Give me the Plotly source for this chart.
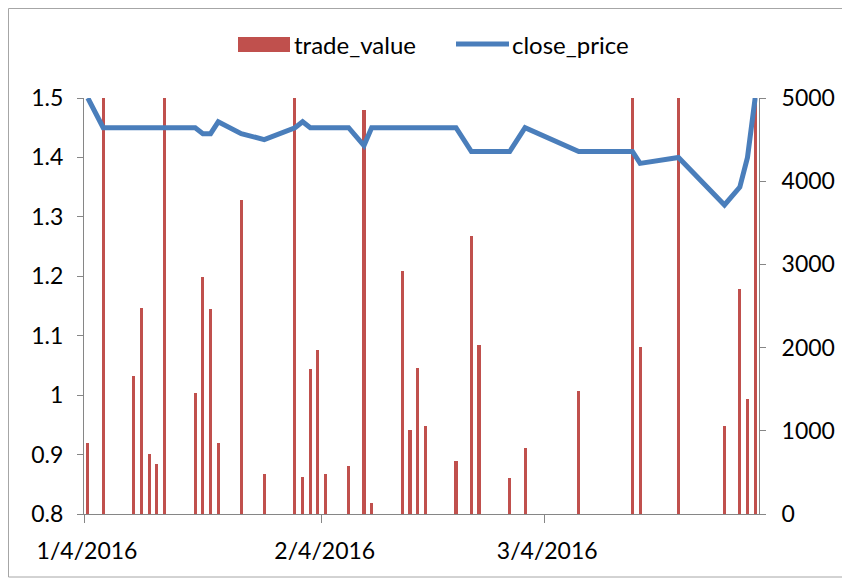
import plotly.graph_objects as go

# ---- data ----
dates = [
    "2016-01-04", "2016-01-06", "2016-01-10", "2016-01-11", "2016-01-12", "2016-01-13",
    "2016-01-14", "2016-01-18", "2016-01-19", "2016-01-20", "2016-01-21", "2016-01-24",
    "2016-01-27", "2016-01-31", "2016-02-01", "2016-02-02", "2016-02-03", "2016-02-04",
    "2016-02-07", "2016-02-09", "2016-02-10", "2016-02-14", "2016-02-15", "2016-02-16",
    "2016-02-17", "2016-02-21", "2016-02-23", "2016-02-24", "2016-02-28", "2016-03-01",
    "2016-03-08", "2016-03-15", "2016-03-16", "2016-03-21", "2016-03-27", "2016-03-29",
    "2016-03-30", "2016-03-31",
]
close_price = [
    1.50, 1.45, 1.45, 1.45, 1.45, 1.45,
    1.45, 1.45, 1.44, 1.44, 1.46, 1.44,
    1.43, 1.45, 1.46, 1.45, 1.45, 1.45,
    1.45, 1.42, 1.45, 1.45, 1.45, 1.45,
    1.45, 1.45, 1.41, 1.41, 1.41, 1.45,
    1.41, 1.41, 1.39, 1.40, 1.32, 1.35,
    1.40, 1.50,
]
trade_value = [
    857, 5400, 1659, 2480, 721, 597,
    5400, 1450, 2849, 2468, 849, 3772,
    477, 5400, 441, 1743, 1971, 485,
    581, 4860, 128, 2925, 1010, 1751,
    1062, 641, 3340, 2027, 429, 789,
    1475, 5400, 2011, 5400, 1054, 2700,
    1378, 5400,
]
x_tick_vals = ["2016-01-03 12:00", "2016-02-03 12:00", "2016-03-03 12:00"]
x_tick_text = ["1/4/2016", "2/4/2016", "3/4/2016"]
x_range = ["2016-01-03 12:00", "2016-03-31 12:00"]
left_range = [0.8, 1.5]
right_range = [0, 5000]

RED = "#C0504D"
BLUE = "#4A7EBB"
AXIS = "#868686"
FONT = "Lato"

# page has an 8px body margin; figure is sized so the plot area lands at
# page x 84..759, y 98..514
W, H = 842, 572
L, T = 76, 90
PW, PH = 675, 416

fig = go.Figure()
fig.add_trace(go.Bar(
    x=dates, y=trade_value, name="trade_value",
    marker=dict(color=RED, line=dict(width=0)),
    width=0.4 * 86400000, yaxis="y", showlegend=False,
))
fig.add_trace(go.Scatter(
    x=dates, y=close_price, name="close_price", mode="lines",
    line=dict(color=BLUE, width=5), yaxis="y2", showlegend=False,
))

axis_common = dict(
    showgrid=False, zeroline=False, showline=True, linecolor=AXIS, linewidth=1,
    ticks="outside", ticklen=6, tickcolor=AXIS, tickwidth=1, automargin=False,
    tickfont=dict(family=FONT, size=23, color="black"),
)

fig.update_layout(
    width=W, height=H,
    margin=dict(l=L, r=W - L - PW, t=T, b=H - T - PH, autoexpand=False),
    paper_bgcolor="white", plot_bgcolor="white",
    font=dict(family=FONT, size=24, color="black"),
    showlegend=False,
    bargap=0,
    xaxis=dict(
        type="date", range=x_range, tickmode="array",
        tickvals=x_tick_vals, ticktext=x_tick_text,
        ticklabelshift=3, ticklabelstandoff=8,
        **{**axis_common, "ticklen": 8},
    ),
    yaxis=dict(
        side="right", range=right_range, dtick=1000, tick0=0,
        ticklabelstandoff=11, **axis_common,
    ),
    yaxis2=dict(
        side="left", overlaying="y", anchor="x", range=left_range,
        dtick=0.1, tick0=0.8, ticklabelstandoff=9, **axis_common,
    ),
)


def px(xp):
    """page x pixel -> paper coordinate"""
    return (xp - 84) / PW


def py(yp):
    """page y pixel -> paper coordinate"""
    return (514 - yp) / PH


# outer chart border (Excel chart area frame)
fig.add_shape(type="rect", xref="paper", yref="paper",
              x0=px(8.5), x1=px(849), y0=py(577), y1=py(8.5),
              line=dict(color="#A6A6A6", width=1), fillcolor="rgba(0,0,0,0)",
              layer="below")

# legend drawn like Excel's
fig.add_shape(type="rect", xref="paper", yref="paper",
              x0=px(238), x1=px(290), y0=py(52), y1=py(37),
              fillcolor=RED, line=dict(width=0))
fig.add_shape(type="line", xref="paper", yref="paper",
              x0=px(456), x1=px(509), y0=py(44), y1=py(44),
              line=dict(color=BLUE, width=5))
fig.add_annotation(text="trade_value", xref="paper", yref="paper",
                   x=px(292), y=py(45), xanchor="left", yanchor="middle",
                   showarrow=False, font=dict(family=FONT, size=24, color="black"))
fig.add_annotation(text="close_price", xref="paper", yref="paper",
                   x=px(510), y=py(45), xanchor="left", yanchor="middle",
                   showarrow=False, font=dict(family=FONT, size=24, color="black"))

fig.write_html("out.html")
